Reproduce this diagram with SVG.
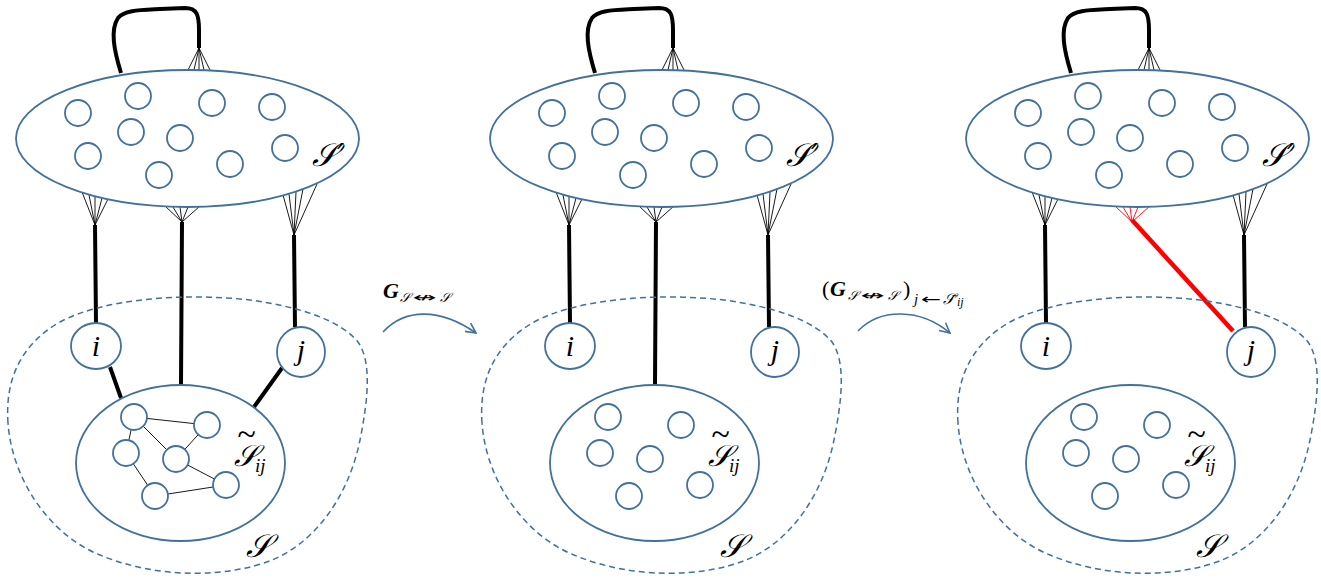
<svg xmlns="http://www.w3.org/2000/svg" width="1321" height="579" viewBox="0 0 1321 579">
<style>
.ell{fill:#fff;stroke:#41719c;stroke-width:1.8}
.sm{fill:#fff;stroke:#41719c;stroke-width:1.8}
.thick{stroke:#000;stroke-width:4;fill:none;stroke-linecap:butt}
.thin{stroke:#000;stroke-width:0.9;fill:none}
.rthin{stroke:#f00;stroke-width:0.9;fill:none}
.red{stroke:#f00;stroke-width:4.5;fill:none}
.dash{fill:none;stroke:#41719c;stroke-width:1.5;stroke-dasharray:6 4}
.arr{fill:none;stroke:#41719c;stroke-width:1.6}
.m{font-family:"Liberation Serif","DejaVu Serif",serif;font-style:italic;fill:#000}
.cal{font-family:"DejaVu Serif","Liberation Serif",serif;font-style:italic;fill:#000}
.ar{font-family:"DejaVu Sans",sans-serif;font-style:normal}
</style>
<defs>
<marker id="ah" viewBox="0 0 12 12" refX="11" refY="6" markerWidth="12" markerHeight="12" markerUnits="userSpaceOnUse" orient="auto">
<path d="M1,1 L11,6 L1,11" fill="none" stroke="#41719c" stroke-width="1.6"/>
</marker>
<g id="sp">
<ellipse class="ell" cx="187.5" cy="138.5" rx="171.5" ry="68.5"/>
<circle class="sm" cx="78" cy="113" r="13"/>
<circle class="sm" cx="138" cy="96" r="13"/>
<circle class="sm" cx="212" cy="103" r="13"/>
<circle class="sm" cx="272" cy="107" r="13"/>
<circle class="sm" cx="131" cy="132" r="13"/>
<circle class="sm" cx="180" cy="138" r="13"/>
<circle class="sm" cx="88" cy="156" r="13"/>
<circle class="sm" cx="159" cy="175" r="13"/>
<circle class="sm" cx="230" cy="164" r="13"/>
<circle class="sm" cx="285" cy="148" r="13"/>
<text class="cal" x="312" y="166" font-size="32">𝒮′</text>
</g>
<g id="loop">
<path class="thick" d="M121,73 C114,50 110,30 118,18 C124,10 140,10 160,9 L185,8 C197,8 199,15 199,30 L199,48"/>
<path class="thin" d="M199,48 L188,70 M199,48 L194,70 M199,48 L199,70 M199,48 L204,70 M199,48 L210,70"/>
</g>
<path id="footL" class="thin" d="M95,225 L82,192 M95,225 L89,195 M95,225 L95,197 M95,225 L102,198 M95,225 L108,199"/>
<path id="footM" d="M182,222 L165,206 M182,222 L173,207 M182,222 L180,207 M182,222 L188,207 M182,222 L200,206"/>
<path id="footR" class="thin" d="M294,235 L283,195 M294,235 L289,194 M294,235 L296,192 M294,235 L303,189 M294,235 L317,184"/>
<path id="region" class="dash" d="M8,423 C5,380 20,345 60,322 C100,300 180,292 250,300 C300,307 340,320 358,342 C372,362 368,400 360,440 C350,490 320,540 272,560 C230,577 160,580 100,555 C50,535 12,480 8,423 Z"/>
<g id="sijlab">
<text><tspan class="m" x="237" y="445" font-size="34" font-style="normal">~</tspan><tspan class="cal" x="234" y="466" font-size="30">𝒮</tspan><tspan class="m" x="255" y="472" font-size="19">ij</tspan></text>
</g>
<g id="inner">
<ellipse class="ell" cx="180.5" cy="463" rx="104.5" ry="78"/>
<circle class="sm" cx="134" cy="417" r="13"/>
<circle class="sm" cx="207" cy="425" r="13"/>
<circle class="sm" cx="126" cy="453" r="13"/>
<circle class="sm" cx="176" cy="459" r="13"/>
<circle class="sm" cx="226" cy="485" r="13"/>
<circle class="sm" cx="155" cy="496" r="13"/>
</g>
</defs>

<!-- Panel 1 -->
<g id="panel1">
<g id="connectors1">
<use href="#loop"/>
<path class="thick" d="M95,225 L96,323 M182,222 L181,385 M294,235 L295,327 M110,367 L121,398 M282,368 L254,407"/>
<use href="#footL"/>
<use href="#footM" class="thin"/>
<use href="#footR"/>
</g>
<g id="Sprime1"><use href="#sp"/></g>
<g id="S1"><use href="#region"/>
<text class="cal" x="246" y="557" font-size="32">𝒮</text></g>
<g id="i1"><ellipse class="ell" cx="96" cy="346" rx="25" ry="23"/><text class="m" x="96" y="356" font-size="30" text-anchor="middle">i</text></g>
<g id="j1"><ellipse class="ell" cx="301" cy="352" rx="24" ry="25"/><text class="m" x="301" y="360" font-size="30" text-anchor="middle">j</text></g>
<g id="Sij1">
<ellipse class="ell" cx="180.5" cy="463" rx="104.5" ry="78"/>
<path class="thin" d="M134,417 L207,425 M134,417 L126,453 M134,417 L176,459 M207,425 L176,459 M126,453 L155,496 M176,459 L226,485 M155,496 L226,485"/>
<circle class="sm" cx="134" cy="417" r="13"/>
<circle class="sm" cx="207" cy="425" r="13"/>
<circle class="sm" cx="126" cy="453" r="13"/>
<circle class="sm" cx="176" cy="459" r="13"/>
<circle class="sm" cx="226" cy="485" r="13"/>
<circle class="sm" cx="155" cy="496" r="13"/>
<use href="#sijlab"/>
</g>
</g>

<!-- Arrow 1 -->
<g id="arrow1">
<path class="arr" d="M383,332 C405,308 440,308 476,333" marker-end="url(#ah)"/>
<text class="m" x="383" y="298" font-size="22" font-weight="bold">G</text>
<text class="cal" y="302" font-size="13"><tspan x="400">𝒮</tspan><tspan class="ar" x="413" textLength="24" lengthAdjust="spacingAndGlyphs">↮</tspan><tspan x="440">𝒮</tspan></text>
</g>

<!-- Panel 2 -->
<g id="panel2" transform="translate(474,0)">
<g id="connectors2">
<use href="#loop"/>
<path class="thick" d="M95,225 L96,323 M182,222 L181,385 M294,235 L295,327"/>
<use href="#footL"/>
<use href="#footM" class="thin"/>
<use href="#footR"/>
</g>
<g id="Sprime2"><use href="#sp"/></g>
<g id="S2"><use href="#region"/>
<text class="cal" x="246" y="557" font-size="32">𝒮</text></g>
<g id="i2"><ellipse class="ell" cx="96" cy="346" rx="25" ry="23"/><text class="m" x="96" y="356" font-size="30" text-anchor="middle">i</text></g>
<g id="j2"><ellipse class="ell" cx="301" cy="352" rx="24" ry="25"/><text class="m" x="301" y="360" font-size="30" text-anchor="middle">j</text></g>
<g id="Sij2"><use href="#inner"/><use href="#sijlab"/></g>
</g>

<!-- Arrow 2 -->
<g id="arrow2">
<path class="arr" d="M858,331 C880,308 920,308 950,333" marker-end="url(#ah)"/>
<text class="m" y="296" font-size="22"><tspan x="822" font-style="normal">(</tspan><tspan x="830" font-weight="bold">G</tspan><tspan class="cal" x="848" y="300" font-size="13">𝒮</tspan><tspan class="ar" x="861" y="300" font-size="13" textLength="24" lengthAdjust="spacingAndGlyphs">↮</tspan><tspan class="cal" x="888" y="300" font-size="13">𝒮</tspan><tspan x="903" y="296" font-style="normal">)</tspan><tspan x="914" y="304" font-size="15">j</tspan><tspan class="ar" x="921" y="304" font-size="14" textLength="20" lengthAdjust="spacingAndGlyphs">←</tspan><tspan class="cal" x="943" y="304" font-size="15">𝒮̃</tspan><tspan x="957" y="306" font-size="12">ij</tspan></text>
</g>

<!-- Panel 3 -->
<g id="panel3" transform="translate(950,0)">
<g id="connectors3">
<use href="#loop"/>
<path class="thick" d="M95,225 L96,323 M294,235 L295,327"/>
<path class="red" d="M182,220 L283,331"/>
<use href="#footL"/>
<use href="#footM" class="rthin"/>
<use href="#footR"/>
</g>
<g id="Sprime3"><use href="#sp"/></g>
<g id="S3"><use href="#region"/>
<text class="cal" x="246" y="557" font-size="32">𝒮</text></g>
<g id="i3"><ellipse class="ell" cx="96" cy="346" rx="25" ry="23"/><text class="m" x="96" y="356" font-size="30" text-anchor="middle">i</text></g>
<g id="j3"><ellipse class="ell" cx="301" cy="352" rx="24" ry="25"/><text class="m" x="301" y="360" font-size="30" text-anchor="middle">j</text></g>
<g id="Sij3"><use href="#inner"/><use href="#sijlab"/></g>
</g>
</svg>
